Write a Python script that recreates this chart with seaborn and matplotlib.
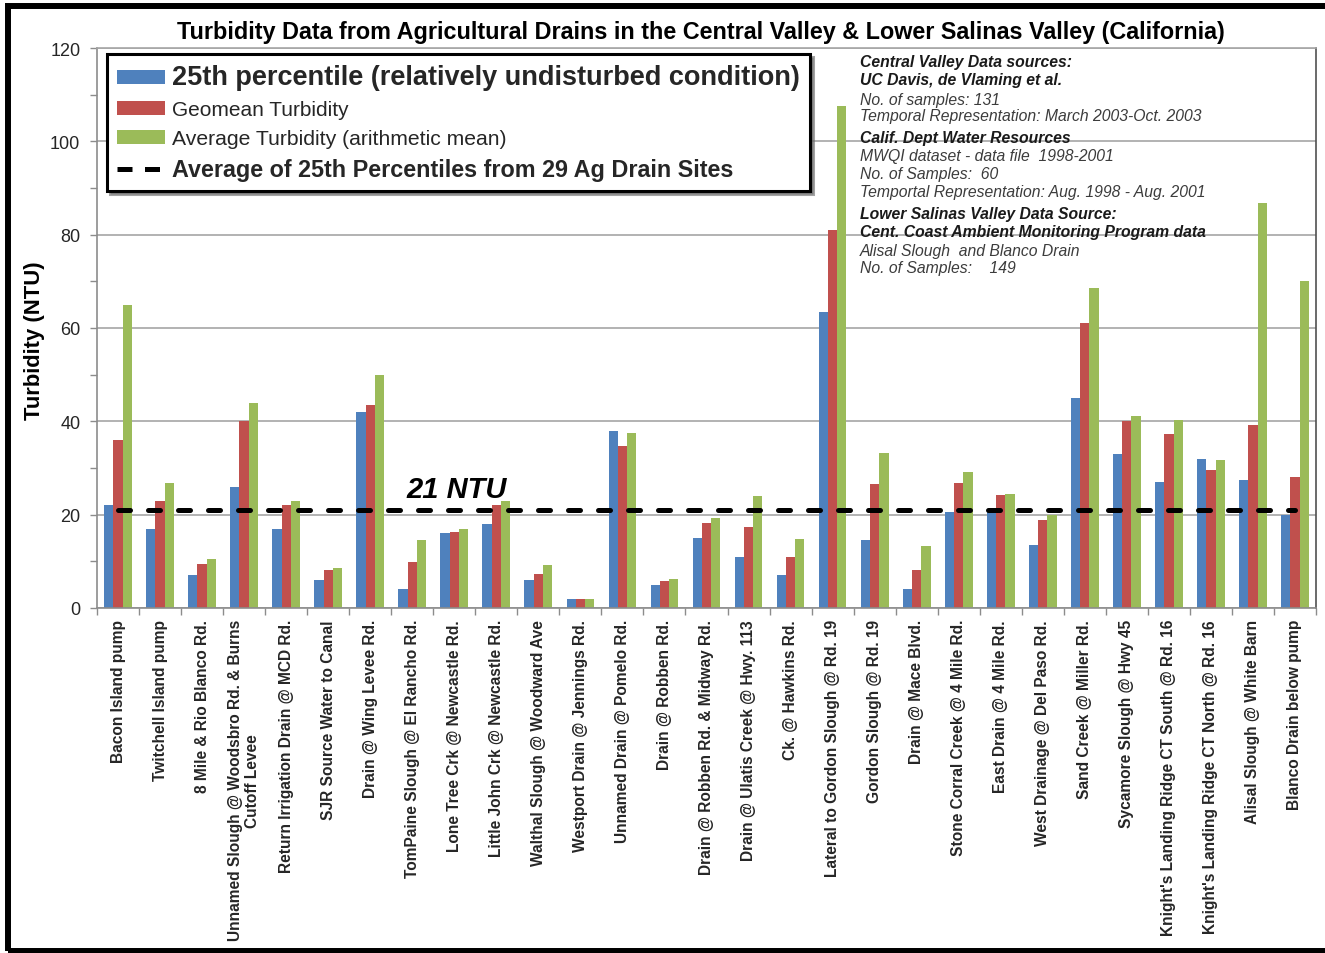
import numpy as np
import pandas as pd
import matplotlib
matplotlib.use("Agg")
import matplotlib.pyplot as plt
import seaborn as sns
from matplotlib.patches import Patch, Rectangle
from matplotlib.lines import Line2D
from matplotlib.ticker import MultipleLocator

# ---------------- data ----------------
sites = [
    "Bacon Island pump",
    "Twitchell Island pump",
    "8 Mile & Rio Blanco Rd.",
    "Unnamed Slough @ Woodsbro Rd. & Burns\nCutoff Levee",
    "Return Irrigation Drain @ MCD Rd.",
    "SJR Source Water to Canal",
    "Drain @ Wing Levee Rd.",
    "TomPaine Slough @ El Rancho Rd.",
    "Lone Tree Crk @ Newcastle Rd.",
    "Little John Crk @ Newcastle Rd.",
    "Walthal Slough @ Woodward Ave",
    "Westport Drain @ Jennings Rd.",
    "Unnamed Drain @ Pomelo Rd.",
    "Drain @ Robben Rd.",
    "Drain @ Robben Rd. & Midway Rd.",
    "Drain @ Ulatis Creek @ Hwy. 113",
    "Ck. @ Hawkins Rd.",
    "Lateral to Gordon Slough @ Rd. 19",
    "Gordon Slough @ Rd. 19",
    "Drain @ Mace Blvd.",
    "Stone Corral Creek @ 4 Mile Rd.",
    "East Drain @ 4 Mile Rd.",
    "West Drainage @ Del Paso Rd.",
    "Sand Creek @ Miller Rd.",
    "Sycamore Slough @ Hwy 45",
    "Knight's Landing Ridge CT South @ Rd. 16",
    "Knight's Landing Ridge CT North @ Rd. 16",
    "Alisal Slough @ White Barn",
    "Blanco Drain below pump",
]

p25 = [22, 17, 7, 26, 17, 6, 42, 4, 16, 18, 6, 2, 38, 5, 15, 11, 7, 63.5,
       14.5, 4, 20.5, 20.5, 13.5, 45, 33, 27, 32, 27.5, 20]
geomean = [36, 23, 9.5, 40, 22, 8.2, 43.5, 9.8, 16.3, 22, 7.3, 2, 34.7, 5.8,
           18.2, 17.3, 11, 81, 26.5, 8.2, 26.8, 24.2, 18.8, 61, 40, 37.2,
           29.6, 39.3, 28]
average = [65, 26.8, 10.5, 44, 23, 8.6, 50, 14.5, 17, 23, 9.2, 2, 37.5, 6.3,
           19.2, 24, 14.8, 107.5, 33.3, 13.2, 29.2, 24.5, 19.9, 68.5, 41.2,
           40.2, 31.8, 86.7, 70]

series_names = [
    "25th percentile (relatively undisturbed condition)",
    "Geomean Turbidity",
    "Average Turbidity (arithmetic mean)",
]
line_label = "Average of 25th Percentiles from 29 Ag Drain Sites"
ref_value = 21
ref_label = "21 NTU"
colors = ["#4F81BD", "#C0504D", "#9BBB59"]

title = ("Turbidity Data from Agricultural Drains in the Central Valley & "
         "Lower Salinas Valley (California)")

notes = [
    ("Central Valley Data sources:", True),
    ("UC Davis, de Vlaming et al.", True),
    ("No. of samples: 131", False),
    ("Temporal Representation: March 2003-Oct. 2003", False),
    ("Calif. Dept Water Resources", True),
    ("MWQI dataset - data file  1998-2001", False),
    ("No. of Samples:  60", False),
    ("Temportal Representation: Aug. 1998 - Aug. 2001", False),
    ("Lower Salinas Valley Data Source:", True),
    ("Cent. Coast Ambient Monitoring Program data", True),
    ("Alisal Slough  and Blanco Drain", False),
    ("No. of Samples:    149", False),
]
note_y = [63, 81, 100, 117, 139, 157, 175, 193, 215, 233, 252, 269]

# ---------------- figure ----------------
sns.set_theme(style="white")
plt.rcParams["font.family"] = ["Liberation Sans", "DejaVu Sans"]

W, H = 1325, 954
fig = plt.figure(figsize=(W / 100, H / 100), dpi=100)
fig.patch.set_facecolor("white")
ax = fig.add_axes([97 / W, 1 - 609 / H, (1316 - 97) / W, (609 - 49) / H])

df = pd.DataFrame({
    "site": np.tile(sites, 3),
    "series": np.repeat(series_names, len(sites)),
    "value": p25 + geomean + average,
})

sns.barplot(data=df, x="site", y="value", hue="series", hue_order=series_names,
            order=sites, palette=colors, width=0.66, gap=0, saturation=1,
            linewidth=0, errorbar=None, legend=False, ax=ax)

n = len(sites)
ax.plot([0, n - 1], [ref_value, ref_value], color="black", lw=3.6,
        linestyle=(0, (2.4, 3.6)), dash_capstyle="round", zorder=5)
ax.text(6.85, 23.8, ref_label, fontsize=21, fontweight="bold",
        fontstyle="italic", ha="left", va="baseline", color="black", zorder=6)

ax.set_xlim(-0.5, n - 0.5)
ax.set_ylim(0, 120)
ax.yaxis.set_major_locator(MultipleLocator(20))
ax.yaxis.set_minor_locator(MultipleLocator(10))
ax.set_xticks(range(n))
ax.set_xticks(np.arange(-0.5, n, 1.0), minor=True)
ax.set_xticklabels(sites, rotation=90, fontsize=11.2, fontweight="bold",
                   va="top", ha="center", multialignment="center")
ax.tick_params(axis="x", which="major", length=0, pad=8, bottom=True)
ax.tick_params(axis="x", which="minor", length=5, color="#8c8c8c",
               width=1, bottom=True, direction="out")
ax.tick_params(axis="y", which="both", length=5, color="#8c8c8c", width=1,
               left=True, direction="out", labelsize=13, pad=7)
ax.set_xlabel("")
ax.set_ylabel("")

ax.yaxis.grid(True, color="#a6a6a6", lw=1.2)
ax.xaxis.grid(False)
ax.set_axisbelow(True)
for side, c in [("left", "#8c8c8c"), ("top", "#a6a6a6"),
                ("right", "#505050"), ("bottom", "#8c8c8c")]:
    ax.spines[side].set_color(c)
    ax.spines[side].set_linewidth(1.2)
    ax.spines[side].set_visible(True)

# legend
handles = [Patch(facecolor=c, edgecolor="none") for c in colors]
handles.append(Line2D([0], [0], color="black", lw=3.6,
                      linestyle=(0, (3.0, 2.5))))
leg = ax.legend(handles, series_names + [line_label], loc="upper left",
                bbox_to_anchor=(107 / W, 1 - 55 / H),
                bbox_transform=fig.transFigure, frameon=True, fancybox=False,
                edgecolor="black", framealpha=1, fontsize=14,
                handlelength=2.5, handleheight=0.7, handletextpad=0.35,
                borderpad=0.5, labelspacing=0.52, borderaxespad=0,
                shadow={"color": "#666666", "alpha": 0.6})
leg.get_frame().set_linewidth(2.2)
lt = leg.get_texts()
lt[0].set_fontsize(19.5)
lt[0].set_fontweight("bold")
lt[1].set_fontsize(15)
lt[2].set_fontsize(15.2)
lt[3].set_fontsize(16.8)
lt[3].set_fontweight("bold")
leg.set_zorder(10)

# notes
for (txt, bold), y in zip(notes, note_y):
    fig.text(860 / W, 1 - y / H, txt, fontsize=11.3, fontstyle="italic",
             fontweight="bold" if bold else "normal",
             color="#1a1a1a" if bold else "#3c3c3c",
             ha="left", va="center", zorder=4)

# titles
fig.text(701 / W, 1 - 33 / H, title, ha="center", va="center", fontsize=16.8,
         fontweight="bold", color="black")
fig.text(35 / W, 1 - 341 / H, "Turbidity (NTU)", rotation=90, ha="center",
         va="center", fontsize=15.8, fontweight="bold", color="black")

# outer frame
fig.add_artist(Rectangle((8 / W, 2 / H), 1.2, (952 - 7) / H,
                         transform=fig.transFigure, fill=False,
                         edgecolor="black", lw=4.3, clip_on=False))

fig.savefig("out.png", dpi=100, facecolor="white")
